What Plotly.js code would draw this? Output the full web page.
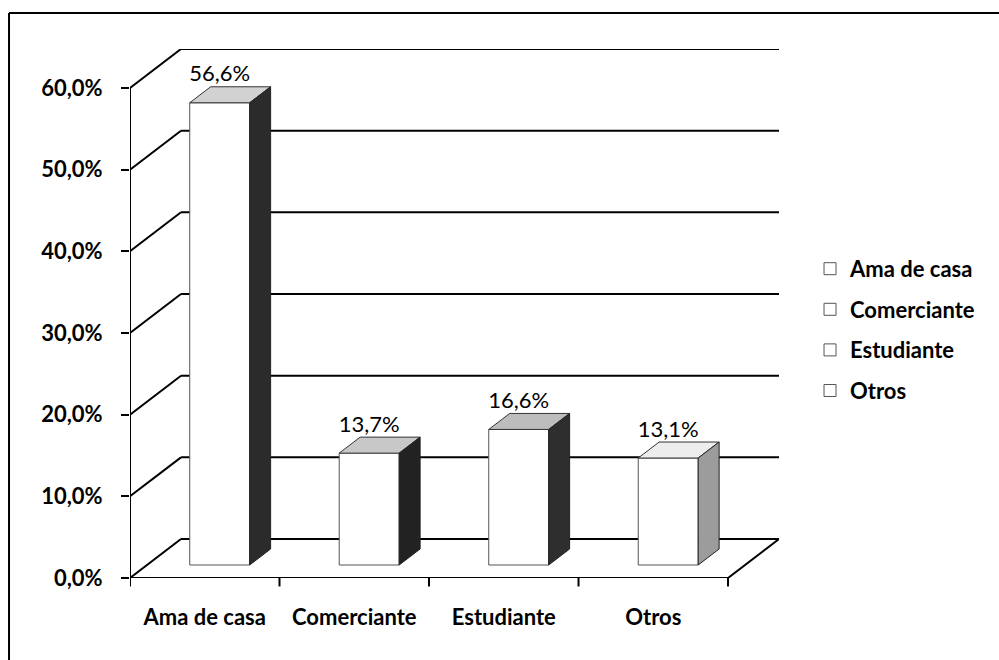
<!DOCTYPE html>
<html>
<head>
<meta charset="utf-8">
<script src="https://cdn.plot.ly/plotly-3.0.1.min.js"></script>
<style>
  html, body { margin: 0; padding: 0; background: #ffffff; }
  #chart { width: 999px; height: 660px; }
</style>
</head>
<body>
<div id="chart"></div>
<script>
// ---- data ----
const categories = ['Ama de casa', 'Comerciante', 'Estudiante', 'Otros'];
const values = [56.6, 13.7, 16.6, 13.1];
const valueLabels = ['56,6%', '13,7%', '16,6%', '13,1%'];
const yTickVals = [0, 10, 20, 30, 40, 50, 60];
const yTickText = ['0,0%', '10,0%', '20,0%', '30,0%', '40,0%', '50,0%', '60,0%'];

// ---- styling (grayscale 3D look) ----
const topColors = ['#d2d2d2', '#c8c8c8', '#bdbdbd', '#ededed'];
const sideColors = ['#2b2b2b', '#222222', '#2e2e2e', '#9c9c9c'];

// oblique projection parameters, in axis units
const wallDX = 0.341, wallDY = 4.775;   // depth of the back wall
const barFX = 0.10, barFY = 1.59;       // front face of the bars sits this far back
const barW = 0.401;                     // bar width
const barDX = 0.14, barDY = 1.96;       // bar depth
const xMin = -0.5, xMax = categories.length - 0.5;
const yMax = yTickVals[yTickVals.length - 1];

const traces = [];
categories.forEach((c, i) => {
  const x0 = i + barFX - barW / 2;
  const top = values[i] + barFY;
  // front face (legend entry)
  traces.push({
    type: 'bar', name: c, legendgroup: c,
    x: [x0 + barW / 2], y: [values[i]], base: [barFY], width: [barW],
    marker: { color: '#ffffff', line: { color: '#555555', width: 1 } },
    hoverinfo: 'skip'
  });
  // top face
  traces.push({
    type: 'scatter', mode: 'lines', fill: 'toself', showlegend: false, legendgroup: c,
    x: [x0, x0 + barW, x0 + barW + barDX, x0 + barDX, x0],
    y: [top, top, top + barDY, top + barDY, top],
    fillcolor: topColors[i], line: { color: '#333333', width: 1 }, hoverinfo: 'skip'
  });
  // side face
  traces.push({
    type: 'scatter', mode: 'lines', fill: 'toself', showlegend: false, legendgroup: c,
    x: [x0 + barW, x0 + barW, x0 + barW + barDX, x0 + barW + barDX, x0 + barW],
    y: [barFY, top, top + barDY, barFY + barDY, barFY],
    fillcolor: sideColors[i], line: { color: '#222222', width: 1 }, hoverinfo: 'skip'
  });
});
// data labels
traces.push({
  type: 'scatter', mode: 'text', showlegend: false, hoverinfo: 'skip',
  x: categories.map((c, i) => i + barFX),
  y: values.map(v => v + barFY + barDY),
  text: valueLabels, textposition: 'top center',
  textfont: { family: 'Lato, sans-serif', size: 22, color: '#000000' }
});

// ---- axes frame / gridlines drawn in data coordinates ----
const shapes = [];
const ln = { color: '#000000', width: 2 };
yTickVals.forEach(v => {
  shapes.push({ type: 'line', layer: 'below', xref: 'x', yref: 'y',
    x0: xMin + wallDX, x1: xMax + wallDX, y0: v + wallDY, y1: v + wallDY, line: ln });
  shapes.push({ type: 'line', layer: 'below', xref: 'x', yref: 'y',
    x0: xMin, x1: xMin + wallDX, y0: v, y1: v + wallDY, line: ln });
});
// floor right edge
shapes.push({ type: 'line', layer: 'below', xref: 'x', yref: 'y',
  x0: xMax, x1: xMax + wallDX, y0: 0, y1: wallDY, line: ln });
// front x axis line
shapes.push({ type: 'line', layer: 'above', xref: 'x', yref: 'y',
  x0: xMin, x1: xMax, y0: 0, y1: 0, line: ln });
// y axis line
shapes.push({ type: 'line', layer: 'above', xref: 'x', yref: 'y',
  x0: xMin, x1: xMin, y0: 0, y1: yMax, line: ln });
// x tick marks at category boundaries
for (let k = 0; k <= categories.length; k++) {
  shapes.push({ type: 'line', layer: 'above', xref: 'x', yref: 'paper',
    x0: xMin + k, x1: xMin + k, y0: 0, y1: -0.016, line: ln });
}
// outer chart-area border (top and left edges visible)
shapes.push({ type: 'line', xref: 'paper', yref: 'paper',
  x0: -0.1864, x1: 1.4, y0: 1.068, y1: 1.068, line: ln });
shapes.push({ type: 'line', xref: 'paper', yref: 'paper',
  x0: -0.1864, x1: -0.1864, y0: 1.068, y1: -0.3, line: ln });

const layout = {
  width: 999, height: 660,
  margin: { l: 130, r: 220, t: 49, b: 82, pad: 0 },
  paper_bgcolor: '#ffffff', plot_bgcolor: 'rgba(0,0,0,0)',
  font: { family: 'Lato, sans-serif', color: '#000000' },
  showlegend: true,
  barmode: 'overlay',
  xaxis: {
    type: 'linear', range: [xMin, xMax + wallDX],
    tickvals: categories.map((c, i) => i), ticktext: categories,
    ticks: '', showgrid: false, zeroline: false, showline: false,
    tickfont: { family: 'Lato, sans-serif', size: 22, weight: 'bold', color: '#000000' },
    ticklabelstandoff: 24
  },
  yaxis: {
    type: 'linear', range: [0, yMax + wallDY],
    tickvals: yTickVals, ticktext: yTickText,
    ticks: 'outside', ticklen: 8, tickwidth: 2, tickcolor: '#000000',
    showgrid: false, zeroline: false, showline: false,
    tickfont: { family: 'Lato, sans-serif', size: 22, weight: 'bold', color: '#000000' },
    ticklabelstandoff: 14
  },
  legend: {
    x: 1.0478, xanchor: 'left', y: 0.469, yanchor: 'middle',
    font: { family: 'Lato, sans-serif', size: 22, weight: 'bold', color: '#000000' },
    tracegroupgap: 9, bgcolor: 'rgba(0,0,0,0)', itemclick: false, itemdoubleclick: false
  },
  shapes: shapes
};

Plotly.newPlot('chart', traces, layout, { staticPlot: true, displayModeBar: false });
</script>
</body>
</html>
